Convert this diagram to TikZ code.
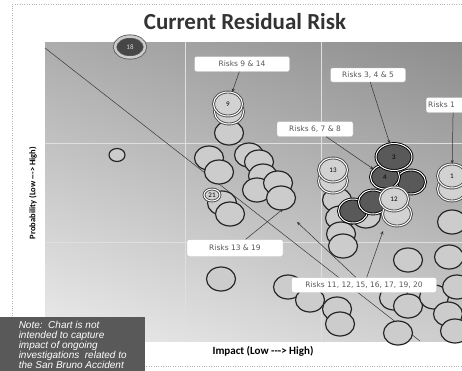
\documentclass[tikz,border=0pt]{standalone}
\usepackage{fontspec}
\setmainfont{Carlito}
\newfontfamily\notefont{Liberation Sans}
\newfontfamily\tagfont{DejaVu Sans}
\usetikzlibrary{shapes.geometric,arrows.meta,shadings}

\tikzset{
  bub/.style={ellipse, draw=black!85, line width=1.2pt, fill=gray!40, minimum width=29pt, minimum height=24pt, inner sep=0pt, font=\fontsize{7}{8}\selectfont},
  ringbub/.style={bub, draw=gray!60!black, double=white, double distance=1pt, line width=0.9pt, fill=gray!35},
  darkbub/.style={bub, draw=black, double=white, double distance=1pt, line width=0.9pt, fill=gray!70!black},
  tag/.style={draw=gray!55, fill=white, rounded corners=2pt, inner sep=2pt, font=\tagfont\fontsize{7.5}{8}\selectfont, text=gray!70!black},
  lead/.style={draw=gray!40!black, line width=0.5pt, -{Stealth[length=3.5pt,width=3pt]}},
}

\begin{document}
\begin{tikzpicture}[x=1pt,y=-1pt]
\useasboundingbox (0,0) rectangle (462,370);
\clip (0,0) rectangle (462,370);
% frame and plot area
\draw[gray!60, dotted] (12,366) -- (12,4) -- (470,4);
\draw[gray!60, dotted] (12,366) -- (470,366);
\shade[upper left=gray!65, upper right=gray!90, lower left=gray!15, lower right=gray!40] (45,42) rectangle (475,341);
\draw[gray!25, line width=0.5pt] (185,42) -- (185,341) (321,42) -- (321,341) (45,143) -- (475,143) (45,242) -- (475,242);
\draw[gray!45!black, line width=0.5pt] (45,48) -- (420,341);

\node[font=\bfseries\fontsize{23}{25}\selectfont, text=black!80] (title) at (245,22) {Current Residual Risk};
\node[rotate=90, font=\bfseries\fontsize{8.5}{9}\selectfont] (ylab) at (33,193) {Probability (Low {-}{-}{-}> High)};
\node[font=\bfseries\fontsize{11}{12}\selectfont] (xlab) at (263,351) {Impact (Low {-}{-}{-}> High)};

% bubbles
\foreach \bx/\by [count=\i] in {229/133, 209/158, 219/172, 249/155, 259/162, 263/176, 257/190, 278/183, 281/198, 222/203, 230/214, 221/279, 337/200, 340/218, 341/234, 343/246, 366/216, 288/287, 310/300, 337/309, 340/324, 408/260, 449/257, 452/222, 394/298, 408/306, 434/297, 448/314, 398/333, 455/331, 457/287}
  \node[bub] (p\i) at (\bx,\by) {};
\node[bub, minimum width=16pt, minimum height=13pt] (b0) at (117,155) {};
\node[ringbub] (b9s) at (229,112) {};
\node[ringbub] (b9) at (228,104) {9};
\node[ringbub, minimum width=16pt, minimum height=12pt] (b21) at (212,195) {21};
\node[ringbub] (b13s) at (333,181) {};
\node[ringbub] (b13) at (333,170) {13};
\node[darkbub] (d1) at (353,211) {};
\node[darkbub] (d2) at (373,202) {};
\node[darkbub] (d3) at (411,182) {};
\node[darkbub] (b4) at (385,177) {4};
\node[darkbub, minimum width=36pt, minimum height=27pt] (b3) at (394,157) {3};
\node[ringbub] (b12s) at (397,214) {};
\node[ringbub] (b12) at (394,199) {12};
\node[ringbub] (b1s) at (452,189) {};
\node[ringbub] (b1) at (452,176) {1};
\node[darkbub, draw=gray!70!black, double=gray!40, double distance=2.5pt, line width=0.8pt, fill=gray!55!black, minimum width=30pt, minimum height=21pt, text=gray!30] (b18) at (130,47) {18};

% labels
\node[tag, minimum width=95pt, minimum height=15pt] (l914) at (242,64) {Risks 9 \& 14};
\node[tag, minimum width=75pt, minimum height=14pt] (l345) at (368,75) {Risks 3, 4 \& 5};
\node[tag, minimum width=76pt, minimum height=15pt] (l678) at (315,129) {Risks 6, 7 \& 8};
\node[tag, minimum width=96pt, minimum height=17pt] (l1319) at (235,248) {Risks 13 \& 19};
\node[tag, minimum width=145pt, minimum height=15pt] (l11) at (364,285) {Risks 11, 12, 15, 16, 17, 19, 20};
\node[tag, anchor=west, text width=50pt, minimum height=15pt] (l1) at (426,105) {Risks 1};

\coordinate (e1319) at (283,209);
\coordinate (e11a) at (383,231);
\coordinate (e11b) at (297,222);
\draw[lead] (l914) -- (b9);
\draw[lead] (l345) -- (b3);
\draw[lead] (l1) -- (b1);
\draw[lead] (l678) -- (b4);
\draw[lead] (l1319) -- (e1319);
\draw[lead] (l11) -- (e11a);
\draw[lead] (l11) -- (e11b);

% note
\node[anchor=north west, fill=gray!70!black, text=white, align=left, inner sep=3pt, minimum width=145pt, minimum height=56pt, font=\notefont\itshape\fontsize{10}{10}\selectfont] (note) at (0,317) {Note:~~Chart is not\\intended to capture\\impact of ongoing\\investigations~~related to\\the San Bruno Accident};
\end{tikzpicture}
\end{document}
